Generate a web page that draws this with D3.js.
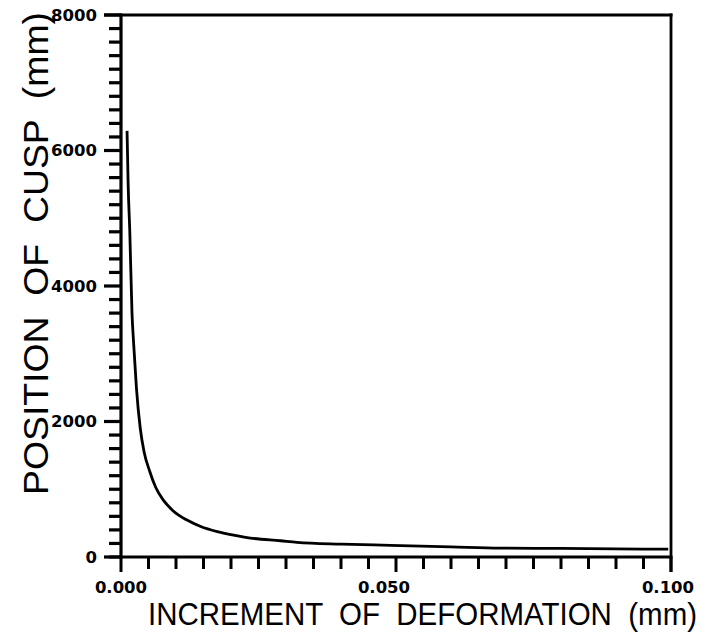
<!DOCTYPE html>
<html>
<head>
<meta charset="utf-8">
<script src="https://cdn.jsdelivr.net/npm/d3@7"></script>
<style>
  html, body { margin: 0; padding: 0; background: #fff; }
  svg { display: block; }
</style>
</head>
<body>
<svg id="chart" width="709" height="638"></svg>
<script>
// ---- data ----
const incrementMM = [0.0011, 0.0013, 0.0016, 0.0020, 0.0023, 0.0028, 0.0035, 0.0042, 0.0052, 0.0063, 0.0077, 0.0095, 0.0120, 0.0145, 0.0175, 0.0210, 0.0235, 0.0290, 0.0320, 0.0400, 0.0490, 0.0600, 0.0690, 0.0800, 0.0900, 0.0995];
const cuspPositionMM = [6290, 5500, 4800, 3600, 3150, 2500, 1900, 1550, 1270, 1030, 840, 680, 545, 450, 375, 315, 280, 240, 217, 190, 172, 150, 132, 126, 120, 115];
const xTickLabels = ["0.000", "0.050", "0.100"];
const yTickLabels = ["0", "2000", "4000", "6000", "8000"];
const xTitle = "INCREMENT  OF  DEFORMATION  (mm)";
const yTitle = "POSITION  OF  CUSP  (mm)";

const svg = d3.select("#chart");
const mLeft = 121, mRight = 671, mTop = 15, mBottom = 557;

const x = d3.scaleLinear().domain([0, 0.1]).range([mLeft, mRight]);
const y = d3.scaleLinear().domain([0, 8000]).range([mBottom, mTop]);

const ink = "#000";
const tickFont = "'DejaVu Sans', Verdana, sans-serif";
const titleFont = "'Liberation Sans', Arial, Helvetica, sans-serif";

const yMinor = d3.range(0, 41).map(i => i * 200);
const xMinor = d3.range(0, 21).map(i => i * 0.005);
const yMajor = yTickLabels.map(Number);
const xMajor = xTickLabels.map(Number);
const isYMajor = v => yMajor.some(m => Math.abs(m - v) < 1e-6);
const isXMajor = v => xMajor.some(m => Math.abs(m - v) < 1e-9);

// tick marks as filled rectangles
svg.append("g").selectAll("rect").data(yMinor).join("rect")
  .attr("x", d => mLeft - (isYMajor(d) ? 17 : 12))
  .attr("width", d => isYMajor(d) ? 17 : 12)
  .attr("y", d => y(d) - 1.6).attr("height", 3.2)
  .attr("fill", ink);
svg.append("g").selectAll("rect").data(xMinor).join("rect")
  .attr("x", d => x(d) - 1.5).attr("width", 3)
  .attr("y", mBottom).attr("height", d => isXMajor(d) ? 15 : 12)
  .attr("fill", ink);

// axis lines and frame
const frame = svg.append("g").attr("stroke", ink).attr("fill", "none");
frame.append("line").attr("x1", mLeft).attr("x2", mLeft)
  .attr("y1", mTop - 1.5).attr("y2", mBottom + 1.5).attr("stroke-width", 3.2);
frame.append("line").attr("x1", mLeft - 12).attr("x2", mRight + 1.5)
  .attr("y1", mBottom).attr("y2", mBottom).attr("stroke-width", 3.2);
frame.append("line").attr("x1", mLeft - 17).attr("x2", mRight + 1.5)
  .attr("y1", mTop).attr("y2", mTop).attr("stroke-width", 3.2);
frame.append("line").attr("x1", mRight).attr("x2", mRight)
  .attr("y1", mTop - 1.5).attr("y2", mBottom + 15).attr("stroke-width", 2.8);

// tick labels
svg.selectAll("text.ylab").data(yMajor).join("text")
  .attr("class", "ylab")
  .attr("x", mLeft - 24).attr("y", d => y(d)).attr("dy", "0.36em")
  .attr("text-anchor", "end")
  .attr("font-family", tickFont).attr("font-weight", "bold").attr("font-size", 16.5)
  .attr("fill", ink).text((d, i) => yTickLabels[i]);

svg.selectAll("text.xlab").data(xMajor).join("text")
  .attr("class", "xlab")
  .attr("x", d => x(d)).attr("dx", (d, i) => i === 1 ? -12 : (i === 2 ? -3 : 0))
  .attr("y", mBottom + 36)
  .attr("text-anchor", "middle")
  .attr("font-family", tickFont).attr("font-weight", "bold").attr("font-size", 16.5)
  .attr("fill", ink).text((d, i) => xTickLabels[i]);

// curve
const pts = incrementMM.map((d, i) => [d, cuspPositionMM[i]]);
const line = d3.line().x(d => x(d[0])).y(d => y(d[1])).curve(d3.curveMonotoneX);
svg.append("path").datum(pts).attr("d", line)
  .attr("fill", "none").attr("stroke", ink).attr("stroke-width", 2.8)
  .attr("stroke-linejoin", "round");

// titles
svg.append("text").attr("transform", "translate(148,625) scale(1,1.1)")
  .attr("font-family", titleFont).attr("font-size", 29).attr("fill", ink)
  .attr("textLength", 549).attr("lengthAdjust", "spacingAndGlyphs")
  .style("white-space", "pre").text(xTitle);

svg.append("text").attr("transform", "translate(48,495) rotate(-90)")
  .attr("font-family", titleFont).attr("font-size", 35).attr("fill", ink)
  .attr("textLength", 483).attr("lengthAdjust", "spacingAndGlyphs")
  .style("white-space", "pre").text(yTitle);
</script>
</body>
</html>
